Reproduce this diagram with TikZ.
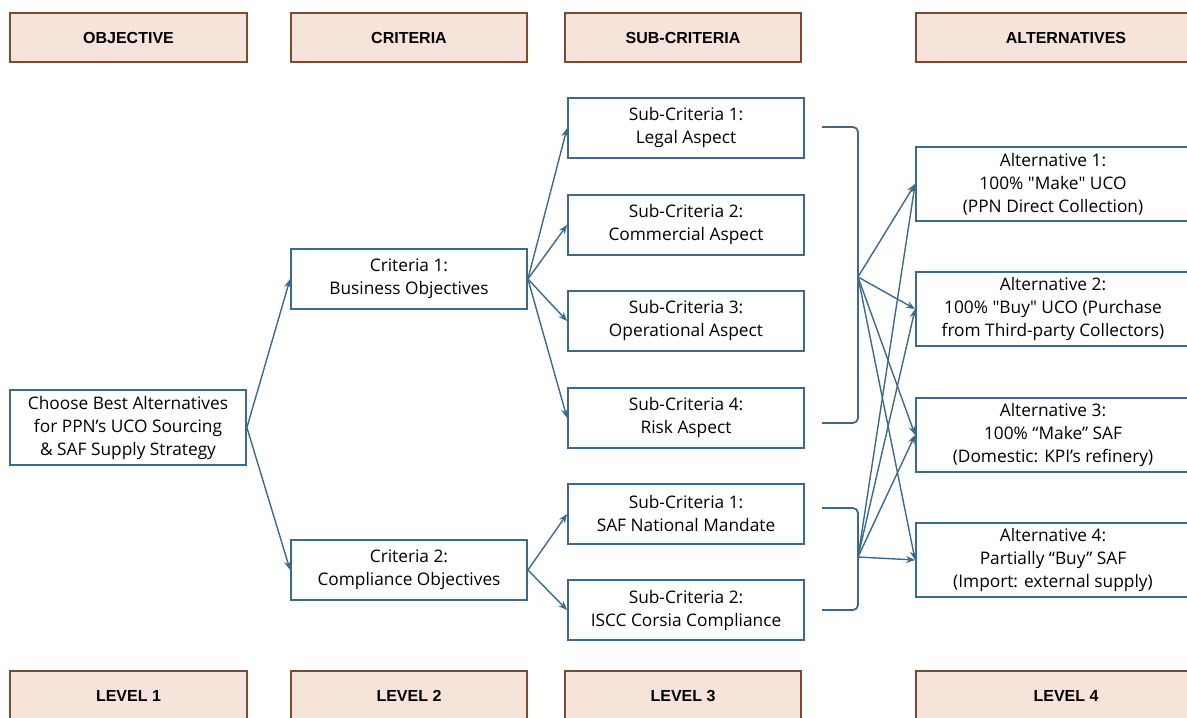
\documentclass[tikz,border=0pt]{standalone}
\usepackage{fontspec}
\usepackage{tikz}
\usetikzlibrary{arrows.meta}
\setmainfont{Open Sans}
\newfontfamily\headfont{Liberation Sans}
\definecolor{boxblue}{HTML}{3E6A89}
\definecolor{headbrown}{HTML}{7B4A30}
\definecolor{headfill}{HTML}{F6E3D9}
\tikzset{
  header/.style={draw=headbrown, fill=headfill, line width=2.2pt, minimum height=49pt,
    inner sep=0pt, font=\headfont\bfseries\fontsize{16}{18}\selectfont},
  item/.style={draw=boxblue, line width=1.8pt, fill=white, align=center, inner sep=0pt,
    minimum width=236pt, minimum height=60pt, font=\fontsize{17.3}{23}\selectfont},
  altbox/.style={item, minimum width=274pt, minimum height=74pt},
  link/.style={draw=boxblue, line width=1.4pt, -{Stealth[length=9pt,width=7pt]}},
  brace/.style={draw=boxblue, line width=1.8pt, rounded corners=5pt},
}

\begin{document}
\begin{tikzpicture}[x=1pt, y=-1pt]
    \useasboundingbox (0,0) rectangle (1187,718);
    \clip (0,0) rectangle (1187,718);

    % draw top headers
    \node[header, minimum width=237pt] (hobj) at (128.5,37.5) {OBJECTIVE};
    \node[header, minimum width=236pt] (hcrit) at (409,37.5) {CRITERIA};
    \node[header, minimum width=236pt] (hsub) at (683,37.5) {SUB-CRITERIA};
    \node[header, minimum width=300pt] (halt) at (1066,37.5) {ALTERNATIVES};

    % draw bottom headers
    \node[header, minimum width=237pt] (lev1) at (128.5,695.5) {LEVEL 1};
    \node[header, minimum width=236pt] (lev2) at (409,695.5) {LEVEL 2};
    \node[header, minimum width=236pt] (lev3) at (683,695.5) {LEVEL 3};
    \node[header, minimum width=300pt] (lev4) at (1066,695.5) {LEVEL 4};

    % draw objective and criteria
    \node[item, minimum height=75pt] (goal) at (128,427.5)
      {Choose Best Alternatives\\ for PPN’s UCO Sourcing\\ \& SAF Supply Strategy};
    \node[item] (crit1) at (409,279) {Criteria 1:\\ Business Objectives};
    \node[item] (crit2) at (409,570) {Criteria 2:\\ Compliance Objectives};

    % draw sub-criteria
    \node[item] (sub1) at (686,128) {Sub-Criteria 1:\\ Legal Aspect};
    \node[item] (sub2) at (686,225) {Sub-Criteria 2:\\ Commercial Aspect};
    \node[item] (sub3) at (686,321) {Sub-Criteria 3:\\ Operational Aspect};
    \node[item] (sub4) at (686,418) {Sub-Criteria 4:\\ Risk Aspect};
    \node[item] (sub5) at (686,514) {Sub-Criteria 1:\\ SAF National Mandate};
    \node[item] (sub6) at (686,610) {Sub-Criteria 2:\\ ISCC Corsia Compliance};

    % draw alternatives
    \node[altbox] (alt1) at (1053,184) {Alternative 1:\\ 100\% \textquotedbl Make\textquotedbl{} UCO\\ (PPN Direct Collection)};
    \node[altbox] (alt2) at (1053,309) {Alternative 2:\\ 100\% \textquotedbl Buy\textquotedbl{} UCO (Purchase\\ from Third-party Collectors)};
    \node[altbox] (alt3) at (1053,435) {Alternative 3:\\ 100\% “Make” SAF\\ (Domestic: KPI’s refinery)};
    \node[altbox] (alt4) at (1053,560) {Alternative 4:\\ Partially “Buy” SAF\\ (Import: external supply)};

    % draw arrows from objective and criteria
    \draw[link] (goal.east) -- (crit1.west);
    \draw[link] (goal.east) -- (crit2.west);
    \foreach \s in {sub1,sub2,sub3,sub4}
      \draw[link] (crit1.east) -- (\s.west);
    \foreach \s in {sub5,sub6}
      \draw[link] (crit2.east) -- (\s.west);

    % draw brackets
    \coordinate (br1) at (858,277);
    \coordinate (br2) at (858,557);
    \draw[brace] (822,127) -- (858,127) -- (858,423) -- (822,423);
    \draw[brace] (822,508) -- (858,508) -- (858,610) -- (822,610);

    % draw arrows to alternatives
    \foreach \a in {alt1,alt2,alt3,alt4} {
      \draw[link] (br1) -- (\a.west);
      \draw[link] (br2) -- (\a.west);
    }
\end{tikzpicture}
\end{document}
